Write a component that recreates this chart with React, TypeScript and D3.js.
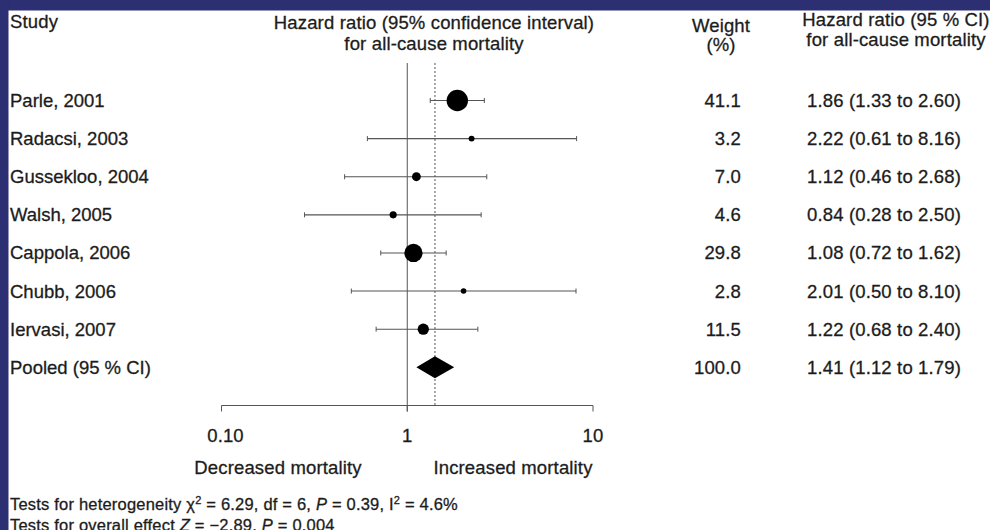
import React from "react";
import * as d3 from "d3";

const studies = ["Parle, 2001", "Radacsi, 2003", "Gussekloo, 2004", "Walsh, 2005", "Cappola, 2006", "Chubb, 2006", "Iervasi, 2007"];
const weights = [41.1, 3.2, 7.0, 4.6, 29.8, 2.8, 11.5];
const hazard = [1.86, 2.22, 1.12, 0.84, 1.08, 2.01, 1.22];
const lower = [1.33, 0.61, 0.46, 0.28, 0.72, 0.5, 0.68];
const upper = [2.6, 8.16, 2.68, 2.5, 1.62, 8.1, 2.4];
const pooledLabel = "Pooled (95 % CI)";
const pooledWeight = 100.0;
const pooledHR = 1.41;
const pooledLower = 1.12;
const pooledUpper = 1.79;
const tickValues = [0.1, 1, 10];
const tickLabels = ["0.10", "1", "10"];

const W = 990;
const H = 530;
const FONT = "'Liberation Sans', Arial, Helvetica, sans-serif";
const TXT = "#1c1c1c";

export default function App() {
  const x = d3.scaleLog().domain([0.1, 10]).range([221.5, 593]);
  const rows = [...studies, pooledLabel];
  const y = d3.scalePoint<string>().domain(rows).range([100.5, 367.3]);
  const r = d3.scaleSqrt().domain([0, 41.1]).range([0, 10.7]);
  const fmt = (v: number) => v.toFixed(2);
  const fs = 18.5;
  const ls = 0.15;
  const axisY = 405.5;
  const capH = 2.5;
  const tp = { fontSize: fs, fill: TXT, stroke: TXT, strokeWidth: 0.3, letterSpacing: ls } as any;

  const diamond = d3.line()([
    [x(pooledLower), y(pooledLabel)!],
    [x(pooledHR), y(pooledLabel)! - 11],
    [x(pooledUpper), y(pooledLabel)!],
    [x(pooledHR), y(pooledLabel)! + 11],
  ]) + "Z";

  return (
    <svg width={W} height={H} style={{ position: "absolute", left: 0, top: 0, background: "#fff" }} fontFamily={FONT}>
      <rect x={0} y={0} width={W} height={H} fill="#fff" />
      <rect x={0} y={0} width={W} height={10.5} fill="#2c2f72" />
      <rect x={0} y={0} width={8.5} height={H} fill="#2c2f72" />

      {/* headers */}
      <text x={10} y={27.5} {...tp}>Study</text>
      <text x={434} y={28.5} {...tp} textAnchor="middle">Hazard ratio (95% confidence interval)</text>
      <text x={434} y={49.5} {...tp} textAnchor="middle">for all-cause mortality</text>
      <text x={721} y={31.5} {...tp} textAnchor="middle">Weight</text>
      <text x={721} y={51} {...tp} textAnchor="middle">(%)</text>
      <text x={896} y={26} {...tp} textAnchor="middle">Hazard ratio (95 % CI)</text>
      <text x={896} y={45.5} {...tp} textAnchor="middle">for all-cause mortality</text>

      {/* reference lines */}
      <line x1={x(1)} x2={x(1)} y1={63} y2={axisY + 6} stroke="#555" strokeWidth={1} />
      <line x1={x(pooledHR)} x2={x(pooledHR)} y1={63} y2={axisY} stroke="#555" strokeWidth={1} strokeDasharray="2,2" />

      {/* studies */}
      {studies.map((s, i) => {
        const cy = y(s)!;
        return (
          <g key={s}>
            <text x={10} y={cy + 6.5} {...tp} letterSpacing={0}>{s}</text>
            <line x1={x(lower[i])} x2={x(upper[i])} y1={cy} y2={cy} stroke="#555" strokeWidth={1.1} />
            <line x1={x(lower[i])} x2={x(lower[i])} y1={cy - capH} y2={cy + capH} stroke="#555" strokeWidth={1} />
            <line x1={x(upper[i])} x2={x(upper[i])} y1={cy - capH} y2={cy + capH} stroke="#555" strokeWidth={1} />
            <circle cx={x(hazard[i])} cy={cy} r={r(weights[i])} fill="#000" />
            <text x={741} y={cy + 6.5} {...tp} textAnchor="end">{weights[i].toFixed(1)}</text>
            <text x={807} y={cy + 6.5} {...tp}>{`${fmt(hazard[i])} (${fmt(lower[i])} to ${fmt(upper[i])})`}</text>
          </g>
        );
      })}

      {/* pooled */}
      <text x={10} y={y(pooledLabel)! + 6.5} {...tp} letterSpacing={0}>{pooledLabel}</text>
      <path d={diamond} fill="#000" />
      <text x={741} y={y(pooledLabel)! + 6.5} {...tp} textAnchor="end">{pooledWeight.toFixed(1)}</text>
      <text x={807} y={y(pooledLabel)! + 6.5} {...tp}>{`${fmt(pooledHR)} (${fmt(pooledLower)} to ${fmt(pooledUpper)})`}</text>

      {/* axis */}
      <line x1={x(0.1)} x2={x(10)} y1={axisY} y2={axisY} stroke="#555" strokeWidth={1} />
      {tickValues.map((t, i) => (
        <g key={t}>
          <line x1={x(t)} x2={x(t)} y1={axisY} y2={axisY + 6} stroke="#555" strokeWidth={1} />
          <text x={x(t) + (i === 0 ? 4 : 0)} y={442} {...tp} textAnchor="middle">{tickLabels[i]}</text>
        </g>
      ))}
      <text x={278} y={474} {...tp} textAnchor="middle">Decreased mortality</text>
      <text x={513} y={474} {...tp} textAnchor="middle">Increased mortality</text>

      {/* footer */}
      <text x={10} y={510} {...tp} fontSize={16.5} letterSpacing={0.2}>
        Tests for heterogeneity χ<tspan dy={-6.5} fontSize={11}>2</tspan><tspan dy={6.5}> = 6.29, df = 6, </tspan>
        <tspan fontStyle="italic">P</tspan> = 0.39, I<tspan dy={-6.5} fontSize={11}>2</tspan><tspan dy={6.5}> = 4.6%</tspan>
      </text>
      <text x={10} y={530.5} {...tp} fontSize={16.5} letterSpacing={0.2}>
        Tests for overall effect <tspan fontStyle="italic">Z</tspan> = −2.89, <tspan fontStyle="italic">P</tspan> = 0.004
      </text>
    </svg>
  );
}
